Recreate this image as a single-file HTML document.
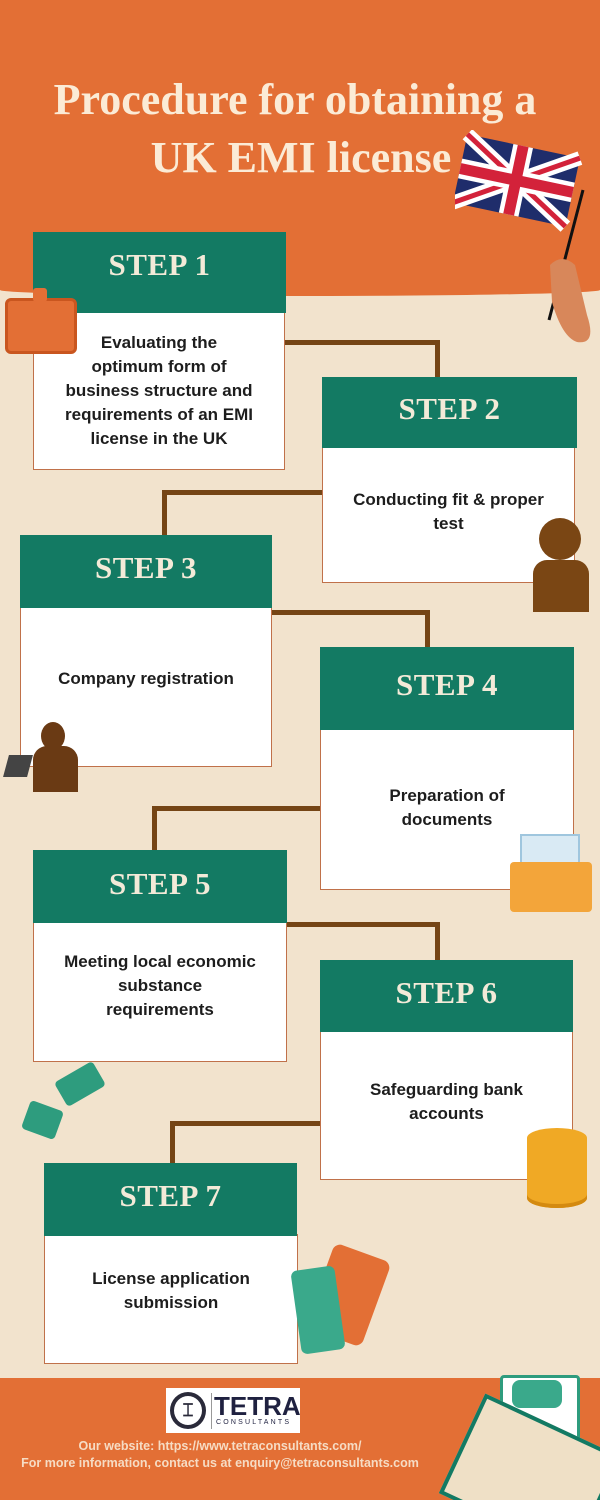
<!DOCTYPE html>
<html style="overflow:hidden;width:600px;height:1500px"><head><meta charset="utf-8"><style>
*{margin:0;padding:0;box-sizing:border-box}
body{width:600px;height:1500px;position:relative;overflow:hidden;background:#f2e3cd;font-family:"Liberation Sans",sans-serif}
#w{position:absolute;left:0;top:0;width:600px;height:1500px;overflow:hidden}
.abs{position:absolute}
.hd{position:absolute;background:#137a63;color:#f3ead8;font-family:"Liberation Serif",serif;font-weight:bold;font-size:31px;text-align:center;letter-spacing:0.5px}
.bd{position:absolute;background:#fff;border:1.5px solid #c0714a;display:flex;align-items:center;justify-content:center;text-align:center;font-weight:bold;font-size:17px;line-height:24px;color:#1d1d1d;padding:0 8px}
.ln{position:absolute;background:#754515}
.title{position:absolute;left:0;width:590px;text-align:center;color:#fbebd6;font-family:"Liberation Serif",serif;font-weight:bold;font-size:44px}
.ft{position:absolute;width:440px;left:0;text-align:center;color:#f6dcc4;font-weight:bold;font-size:12.5px}
</style></head><body><div id="w">
<div class="abs" style="left:0;top:0;width:600px;height:296px;background:#e36f35;border-radius:0 0 50% 50%/0 0 6px 6px"></div>
<div class="abs" style="left:0;top:1378px;width:600px;height:122px;background:#e36f35"></div>
<div class="title" style="top:74px">Procedure for obtaining a</div>
<div class="title" style="top:132px;left:6px">UK EMI license</div>
<svg class="abs" style="left:455px;top:130px" width="145" height="215" viewBox="0 0 145 215">
<g transform="rotate(12 60 45)">
<rect x="5" y="15" width="115" height="70" fill="#1f2d6b"/>
<path d="M5 15 L120 85 M120 15 L5 85" stroke="#fff" stroke-width="14"/>
<path d="M5 15 L120 85 M120 15 L5 85" stroke="#d3223a" stroke-width="5"/>
<path d="M62 15 V85 M5 50 H120" stroke="#fff" stroke-width="20"/>
<path d="M62 15 V85 M5 50 H120" stroke="#d3223a" stroke-width="11"/>
</g>
<line x1="128" y1="60" x2="94" y2="190" stroke="#111" stroke-width="3"/>
<path d="M95 135 q12-12 25 0 l12 50 q10 30 -10 27 q-15 -5 -25 -40 z" fill="#d8875a"/>
</svg>
<div class="ln" style="left:285px;top:340px;width:155px;height:5px"></div>
<div class="ln" style="left:435px;top:340px;width:5px;height:40px"></div>
<div class="ln" style="left:162px;top:490px;width:162px;height:5px"></div>
<div class="ln" style="left:162px;top:490px;width:5px;height:47px"></div>
<div class="ln" style="left:270px;top:610px;width:160px;height:5px"></div>
<div class="ln" style="left:425px;top:610px;width:5px;height:40px"></div>
<div class="ln" style="left:152px;top:806px;width:170px;height:5px"></div>
<div class="ln" style="left:152px;top:806px;width:5px;height:46px"></div>
<div class="ln" style="left:285px;top:922px;width:155px;height:5px"></div>
<div class="ln" style="left:435px;top:922px;width:5px;height:40px"></div>
<div class="ln" style="left:170px;top:1121px;width:152px;height:5px"></div>
<div class="ln" style="left:170px;top:1121px;width:5px;height:44px"></div>
<div class="bd" style="left:33px;top:312px;width:252px;height:158px">Evaluating the<br>optimum form of<br>business structure and<br>requirements of an EMI<br>license in the UK</div>
<div class="hd" style="left:33px;top:232px;width:253px;height:81px;line-height:66px">STEP 1</div>
<div class="bd" style="left:322px;top:446px;width:253px;height:137px;padding-bottom:6px">Conducting fit &amp; proper<br>test</div>
<div class="hd" style="left:322px;top:377px;width:255px;height:71px;line-height:64px">STEP 2</div>
<div class="bd" style="left:20px;top:606px;width:252px;height:161px;padding-bottom:16px">Company registration</div>
<div class="hd" style="left:20px;top:535px;width:252px;height:73px;line-height:66px">STEP 3</div>
<div class="bd" style="left:320px;top:729px;width:254px;height:161px;padding-bottom:4px">Preparation of<br>documents</div>
<div class="hd" style="left:320px;top:647px;width:254px;height:83px;line-height:76px">STEP 4</div>
<div class="bd" style="left:33px;top:921px;width:254px;height:141px;padding-bottom:12px">Meeting local economic<br>substance<br>requirements</div>
<div class="hd" style="left:33px;top:850px;width:254px;height:73px;line-height:68px">STEP 5</div>
<div class="bd" style="left:320px;top:1031px;width:253px;height:149px;padding-bottom:8px">Safeguarding bank<br>accounts</div>
<div class="hd" style="left:320px;top:960px;width:253px;height:72px;line-height:66px">STEP 6</div>
<div class="bd" style="left:44px;top:1234px;width:254px;height:130px;padding-bottom:16px">License application<br>submission</div>
<div class="hd" style="left:44px;top:1163px;width:253px;height:73px;line-height:66px">STEP 7</div>
<div class="abs" style="left:5px;top:298px;width:72px;height:56px;background:#e36f35;border-radius:6px;border:3px solid #c9561f"></div>
<div class="abs" style="left:33px;top:288px;width:14px;height:14px;background:#e36f35;border-radius:3px"></div>
<div class="abs" style="left:539px;top:518px;width:42px;height:42px;background:#7a4614;border-radius:50%"></div>
<div class="abs" style="left:533px;top:560px;width:56px;height:52px;background:#7a4614;border-radius:14px 14px 0 0"></div>
<div class="abs" style="left:41px;top:722px;width:24px;height:28px;background:#6a3a14;border-radius:50%"></div>
<div class="abs" style="left:33px;top:746px;width:45px;height:46px;background:#6a3a14;border-radius:14px 14px 0 0"></div>
<div class="abs" style="left:6px;top:755px;width:24px;height:22px;background:#444;transform:skewX(-15deg)"></div>
<div class="abs" style="left:520px;top:834px;width:60px;height:50px;background:#d9eaf4;border:2px solid #9fc6de"></div>
<div class="abs" style="left:510px;top:862px;width:82px;height:50px;background:#f3a53a;border-radius:4px"></div>
<div class="abs" style="left:58px;top:1070px;width:44px;height:28px;background:#2e9c7e;transform:rotate(-30deg);border-radius:4px"></div>
<div class="abs" style="left:25px;top:1105px;width:35px;height:30px;background:#2e9c7e;border-radius:4px;transform:rotate(20deg)"></div>
<div class="abs" style="left:527px;top:1128px;width:60px;height:80px;background:#f0a925;border-radius:30px/10px;box-shadow:inset 0 -4px #d48a10"></div>
<div class="abs" style="left:318px;top:1250px;width:60px;height:90px;background:#e36f35;border-radius:8px;transform:rotate(20deg)"></div>
<div class="abs" style="left:296px;top:1268px;width:44px;height:84px;background:#3aa98b;border-radius:6px;transform:rotate(-8deg)"></div>
<div class="abs" style="left:500px;top:1375px;width:80px;height:120px;background:#fff;border:3px solid #2e9c7e;border-radius:4px"></div>
<div class="abs" style="left:512px;top:1380px;width:50px;height:28px;background:#3aa98b;border-radius:8px"></div>
<div class="abs" style="left:455px;top:1420px;width:150px;height:110px;background:#efe0c6;border:4px solid #137a63;transform:rotate(25deg)"></div>
<div class="abs" style="left:166px;top:1388px;width:134px;height:45px;background:#fff"></div>
<div class="abs" style="left:170px;top:1392px;width:36px;height:37px;border:4px solid #2a2a3a;border-radius:50%;color:#2a2a3a;font-size:18px;text-align:center;line-height:29px;font-weight:bold">⌶</div>
<div class="abs" style="left:211px;top:1393px;width:1px;height:36px;background:#999"></div>
<div class="abs" style="left:214px;top:1391px;font-weight:bold;font-size:26px;color:#1f2140;letter-spacing:0px">TETRA</div>
<div class="abs" style="left:216px;top:1419px;font-size:7px;color:#1f2140;letter-spacing:2.2px">CONSULTANTS</div>
<div class="ft" style="top:1439px">Our website: https://www.tetraconsultants.com/</div>
<div class="ft" style="top:1456px">For more information, contact us at enquiry@tetraconsultants.com</div>
</div></body></html>
